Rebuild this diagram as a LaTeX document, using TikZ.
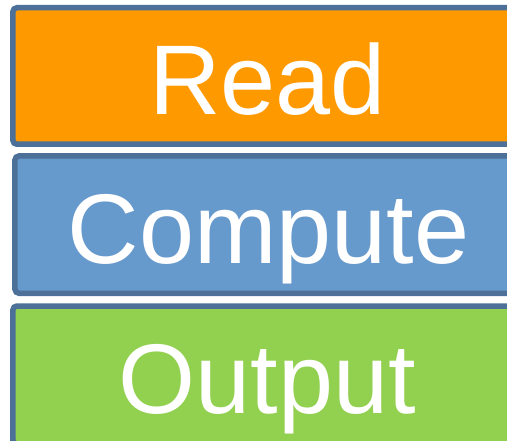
\documentclass[tikz,border=0pt]{standalone}
\usepackage{fontspec}
\setmainfont{Liberation Sans}
\definecolor{borderC}{RGB}{76,112,152}
\definecolor{readC}{RGB}{255,153,0}
\definecolor{computeC}{RGB}{102,153,204}
\definecolor{outputC}{RGB}{146,208,80}
\begin{document}
\begin{tikzpicture}[x=1bp,y=-1bp,
  stagebox/.style={draw=borderC, line width=5.5bp, rounded corners=4bp,
    inner sep=0pt, outer sep=0pt, text=white,
    font=\fontsize{99bp}{99bp}\selectfont,
    text height=77bp, text depth=0pt}]
\useasboundingbox (0,0) rectangle (507,441);
\begin{scope}
\clip (0,0) rectangle (507,441);
\node[stagebox, fill=readC, minimum width=509bp, minimum height=136.5bp] (read) at (267.4,76) {Read};
\node[stagebox, fill=computeC, minimum width=507bp, minimum height=137.3bp] (compute) at (268.5,224.6) {Compute};
\node[stagebox, fill=outputC, minimum width=509bp, minimum height=138bp] (output) at (267.4,375) {Output};
\end{scope}
\end{tikzpicture}
\end{document}
